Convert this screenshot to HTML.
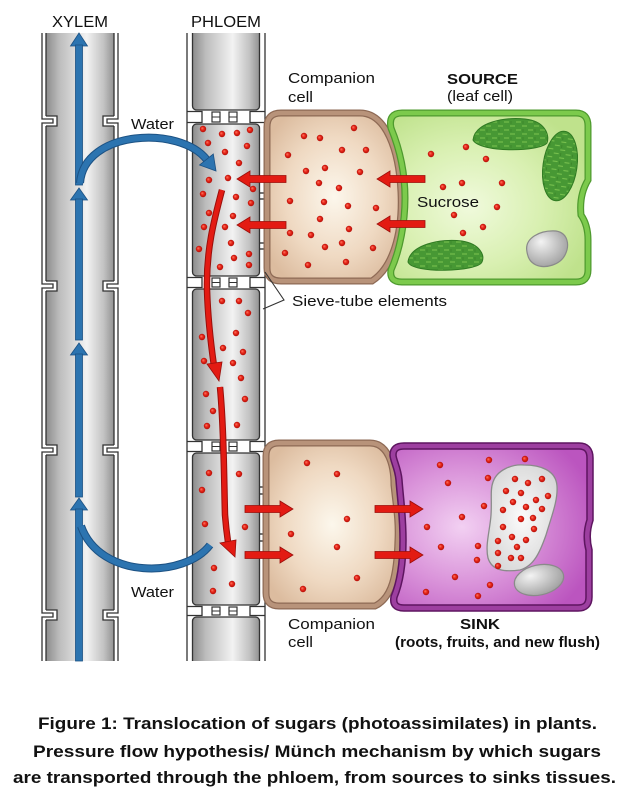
<!DOCTYPE html>
<html><head><meta charset="utf-8"><style>
html,body{margin:0;padding:0;background:#fff;}
svg{display:block;}
text{font-family:"Liberation Sans",Arial,sans-serif;fill:#111;}
</style></head><body>
<svg width="636" height="798" viewBox="0 0 636 798" xmlns="http://www.w3.org/2000/svg">
<defs>
<linearGradient id="tube" x1="0" y1="0" x2="1" y2="0">
<stop offset="0" stop-color="#8c8c8c"/><stop offset="0.2" stop-color="#bdbdbd"/><stop offset="0.6" stop-color="#f2f2f2"/><stop offset="0.85" stop-color="#c2c2c2"/><stop offset="1" stop-color="#929292"/>
</linearGradient>
<radialGradient id="cc" cx="0.5" cy="0.5" r="0.6">
<stop offset="0" stop-color="#fcf7ec"/><stop offset="0.6" stop-color="#efd9c2"/><stop offset="1" stop-color="#dcbc9f"/>
</radialGradient>
<radialGradient id="src" cx="0.4" cy="0.55" r="0.65">
<stop offset="0" stop-color="#f0fadc"/><stop offset="0.55" stop-color="#d9f0b2"/><stop offset="1" stop-color="#bfe28c"/>
</radialGradient>
<radialGradient id="sink" cx="0.35" cy="0.5" r="0.7">
<stop offset="0" stop-color="#f2d0f2"/><stop offset="0.5" stop-color="#da94da"/><stop offset="1" stop-color="#bb55bf"/>
</radialGradient>
<radialGradient id="vac" cx="0.5" cy="0.5" r="0.6">
<stop offset="0" stop-color="#fbfbfb"/><stop offset="1" stop-color="#d6d6d6"/>
</radialGradient>
<radialGradient id="nuc" cx="0.4" cy="0.4" r="0.7" fx="0.35" fy="0.3">
<stop offset="0" stop-color="#f4f4f4"/><stop offset="1" stop-color="#9a9a9a"/>
</radialGradient>
<radialGradient id="dot" cx="0.5" cy="0.5" r="0.5" fx="0.35" fy="0.35">
<stop offset="0" stop-color="#ff7a66"/><stop offset="0.5" stop-color="#e8281a"/><stop offset="1" stop-color="#b20e08"/>
</radialGradient>
<pattern id="gr" width="12" height="8" patternUnits="userSpaceOnUse">
<rect width="12" height="8" fill="#479834"/>
<line x1="0" y1="2" x2="5" y2="2" stroke="#78c14e" stroke-width="1.1"/>
<line x1="6" y1="6" x2="11" y2="6" stroke="#78c14e" stroke-width="1.1"/>
<line x1="7" y1="1" x2="7" y2="4" stroke="#3a8428" stroke-width="0.8"/>
</pattern>
</defs>

<!-- XYLEM tube -->
<rect x="46" y="20" width="68" height="650" fill="url(#tube)"/>
<g stroke="#333" stroke-width="1.3" fill="none">
<line x1="42" y1="20" x2="42" y2="670"/><line x1="46" y1="20" x2="46" y2="670"/>
<line x1="114" y1="20" x2="114" y2="670"/><line x1="118" y1="20" x2="118" y2="670"/>
</g>
<g stroke="#333" stroke-width="1.3">
<g fill="#fff" stroke="none">
<rect x="41" y="116" width="16" height="10"/><rect x="103" y="116" width="16" height="10"/>
<rect x="41" y="281" width="16" height="10"/><rect x="103" y="281" width="16" height="10"/>
<rect x="41" y="445" width="16" height="10"/><rect x="103" y="445" width="16" height="10"/>
<rect x="41" y="610" width="16" height="10"/><rect x="103" y="610" width="16" height="10"/>
</g>
<g fill="none">
<path d="M46,116 H57 V126 H46"/><path d="M114,116 H103 V126 H114"/>
<path d="M42,116 V119 H53 V123 H42 V126"/><path d="M118,116 V119 H107 V123 H118 V126"/>
<path d="M46,281 H57 V291 H46"/><path d="M114,281 H103 V291 H114"/>
<path d="M42,281 V284 H53 V288 H42 V291"/><path d="M118,281 V284 H107 V288 H118 V291"/>
<path d="M46,445 H57 V455 H46"/><path d="M114,445 H103 V455 H114"/>
<path d="M42,445 V448 H53 V452 H42 V455"/><path d="M118,445 V448 H107 V452 H118 V455"/>
<path d="M46,610 H57 V620 H46"/><path d="M114,610 H103 V620 H114"/>
<path d="M42,610 V613 H53 V617 H42 V620"/><path d="M118,610 V613 H107 V617 H118 V620"/>
</g>
</g>

<!-- PHLOEM tube -->
<g stroke="#333" stroke-width="1.3" fill="none">
<line x1="187" y1="20" x2="187" y2="670"/><line x1="265" y1="20" x2="265" y2="670"/>
</g>
<g fill="url(#tube)" stroke="#333" stroke-width="1.3">
<rect x="192.5" y="10" width="67" height="100" rx="4"/>
<rect x="192.5" y="124" width="67" height="152" rx="4"/>
<rect x="192.5" y="289" width="67" height="151" rx="4"/>
<rect x="192.5" y="453" width="67" height="152" rx="4"/>
<rect x="192.5" y="617" width="67" height="70" rx="4"/>
</g>
<g stroke="#333" stroke-width="1.3" fill="none">
<path d="M187,111.5 H202 V122.5 H187"/><path d="M265,111.5 H250 V122.5 H265"/>
<path d="M187,277.5 H202 V287.5 H187"/><path d="M265,277.5 H250 V287.5 H265"/>
<path d="M187,441.5 H202 V451.5 H187"/><path d="M265,441.5 H250 V451.5 H265"/>
<path d="M187,606.5 H202 V615.5 H187"/><path d="M265,606.5 H250 V615.5 H265"/>
</g>
<g stroke="#333" stroke-width="1.2" fill="#fff">
<rect x="212" y="112" width="8" height="10"/><rect x="229" y="112" width="8" height="10"/>
<rect x="212" y="278" width="8" height="9"/><rect x="229" y="278" width="8" height="9"/>
<rect x="212" y="442" width="8" height="9"/><rect x="229" y="442" width="8" height="9"/>
<rect x="212" y="607" width="8" height="8"/><rect x="229" y="607" width="8" height="8"/>
</g>
<g stroke="#333" stroke-width="1">
<line x1="212" y1="117" x2="220" y2="117"/><line x1="229" y1="117" x2="237" y2="117"/>
<line x1="212" y1="282.5" x2="220" y2="282.5"/><line x1="229" y1="282.5" x2="237" y2="282.5"/>
<line x1="212" y1="446.5" x2="220" y2="446.5"/><line x1="229" y1="446.5" x2="237" y2="446.5"/>
<line x1="212" y1="611" x2="220" y2="611"/><line x1="229" y1="611" x2="237" y2="611"/>
</g>

<!-- plasmodesmata lines -->
<g stroke="#222" stroke-width="1.2">
<line x1="260" y1="193" x2="283" y2="193"/><line x1="260" y1="199" x2="283" y2="199"/>
<line x1="260" y1="243" x2="283" y2="243"/><line x1="260" y1="249" x2="283" y2="249"/>
<line x1="260" y1="487" x2="283" y2="487"/><line x1="260" y1="494" x2="283" y2="494"/>
<line x1="260" y1="534" x2="283" y2="534"/><line x1="260" y1="541" x2="283" y2="541"/>
</g>

<!-- white covers top & bottom -->
<rect x="0" y="0" width="636" height="33" fill="#fff"/>
<rect x="0" y="661" width="636" height="137" fill="#fff"/>

<!-- Companion cell top -->
<path d="M281,113 H360 C386,113 399,150 401,192 C403,235 392,268 372,281 H281 Q267,281 267,268 V127 Q267,113 281,113 Z" fill="url(#cc)" stroke="#8e6a55" stroke-width="7"/>
<path d="M281,113 H360 C386,113 399,150 401,192 C403,235 392,268 372,281 H281 Q267,281 267,268 V127 Q267,113 281,113 Z" fill="none" stroke="#b8937a" stroke-width="4.5"/>

<!-- Source cell -->
<path d="M402,113 H576 Q588,113 588,126 V180 Q579,195 581,215 Q588,225 588,240 V270 Q588,282 576,282 H402 Q389,282 391,270 C400,250 405,222 405,198 C405,170 398,145 391,128 Q388,113 402,113 Z" fill="url(#src)" stroke="#4e9a2e" stroke-width="7"/>
<path d="M402,113 H576 Q588,113 588,126 V180 Q579,195 581,215 Q588,225 588,240 V270 Q588,282 576,282 H402 Q389,282 391,270 C400,250 405,222 405,198 C405,170 398,145 391,128 Q388,113 402,113 Z" fill="none" stroke="#7cca4c" stroke-width="4.5"/>
<!-- chloroplasts -->
<path d="M473,140 C475,122 505,117 525,119 C545,121 550,135 547,143 C540,152 480,153 473,140 Z" fill="url(#gr)" stroke="#2f7a22" stroke-width="1"/>
<ellipse cx="560" cy="166" rx="17" ry="35" transform="rotate(8 560 166)" fill="url(#gr)" stroke="#2f7a22" stroke-width="1"/>
<path d="M408,262 C410,245 440,238 462,241 C480,244 485,255 482,262 C478,272 412,274 408,262 Z" fill="url(#gr)" stroke="#2f7a22" stroke-width="1"/>
<path d="M527,252 C524,238 540,230 556,231 C568,233 570,245 565,255 C560,265 545,269 536,265 C530,262 528,258 527,252 Z" fill="url(#nuc)" stroke="#8a8a8a" stroke-width="1.2"/>

<!-- Companion cell bottom -->
<path d="M279,443 H370 C388,443 394,465 394,485 C396,505 399,520 398,540 C397,575 392,598 375,606 H279 Q266,606 266,593 V456 Q266,443 279,443 Z" fill="url(#cc)" stroke="#8e6a55" stroke-width="7"/>
<path d="M279,443 H370 C388,443 394,465 394,485 C396,505 399,520 398,540 C397,575 392,598 375,606 H279 Q266,606 266,593 V456 Q266,443 279,443 Z" fill="none" stroke="#b8937a" stroke-width="4.5"/>

<!-- Sink cell -->
<path d="M404,446 H579 Q590,446 590,458 V520 Q585,535 589,550 V597 Q589,608 578,608 H404 Q392,608 394,597 C401,580 403,560 403,540 C403,515 400,495 399,480 C398,468 393,460 393,455 Q393,446 404,446 Z" fill="url(#sink)" stroke="#5e1560" stroke-width="7.5"/>
<path d="M404,446 H579 Q590,446 590,458 V520 Q585,535 589,550 V597 Q589,608 578,608 H404 Q392,608 394,597 C401,580 403,560 403,540 C403,515 400,495 399,480 C398,468 393,460 393,455 Q393,446 404,446 Z" fill="none" stroke="#9d3fa0" stroke-width="4.5"/>
<path d="M493,482 C497,470 512,464 524,465 C540,465 556,470 557,486 C558,500 552,515 546,535 C540,552 534,566 520,570 C505,572 492,571 488,558 C485,545 490,530 491,515 C492,500 490,490 493,482 Z" fill="url(#vac)" stroke="#8a8a8a" stroke-width="1.3"/>
<ellipse cx="539" cy="580" rx="25" ry="15" transform="rotate(-12 539 580)" fill="url(#nuc)" stroke="#8a8a8a" stroke-width="1.2"/>

<!-- Xylem blue arrow -->
<g fill="#2c74b0" stroke="#1c5284" stroke-width="0.8">
<polygon points="79,33 70.5,46 87.5,46"/><rect x="75.5" y="45" width="7" height="140"/>
<polygon points="79,188 70.5,200 87.5,200"/><rect x="75.5" y="199" width="7" height="141"/>
<polygon points="79,343 70.5,355 87.5,355"/><rect x="75.5" y="354" width="7" height="143"/>
<polygon points="79,498 70.5,510 87.5,510"/><rect x="75.5" y="509" width="7" height="152"/>
</g>
<!-- water arcs -->
<path d="M80,183 C84,130 180,125 207,160" fill="none" stroke="#1c5284" stroke-width="8"/>
<path d="M80,183 C84,130 180,125 207,160" fill="none" stroke="#2c74b0" stroke-width="6"/>
<polygon points="216,171 213.3,154 199.5,165" fill="#2c74b0" stroke="#1c5284" stroke-width="0.8"/>
<path d="M210,545 C185,578 100,580 81,526" fill="none" stroke="#1c5284" stroke-width="8"/>
<path d="M210,545 C185,578 100,580 81,526" fill="none" stroke="#2c74b0" stroke-width="6"/>

<!-- red curved arrows in phloem -->
<path d="M222,190 C214,220 206,250 207,290 C208,322 211,345 214,366" fill="none" stroke="#9a0e0a" stroke-width="6.5"/>
<path d="M222,190 C214,220 206,250 207,290 C208,322 211,345 214,366" fill="none" stroke="#e31b13" stroke-width="4.5"/>
<polygon points="219,381 207,364 222,362" fill="#e31b13" stroke="#9a0e0a" stroke-width="0.8"/>
<path d="M220,387 C224,430 224,480 225,515 C226,528 227,535 228,542" fill="none" stroke="#9a0e0a" stroke-width="6.5"/>
<path d="M220,387 C224,430 224,480 225,515 C226,528 227,535 228,542" fill="none" stroke="#e31b13" stroke-width="4.5"/>
<polygon points="235,557 220,543 236,540" fill="#e31b13" stroke="#9a0e0a" stroke-width="0.8"/>

<!-- red horizontal arrows -->
<g fill="#e31b13" stroke="#9a0e0a" stroke-width="0.8">
<polygon points="286,175.5 250,175.5 250,171 237,179 250,187 250,182.5 286,182.5"/>
<polygon points="286,221.5 250,221.5 250,217 237,225 250,233 250,228.5 286,228.5"/>
<polygon points="425,175.5 390,175.5 390,171 377,179 390,187 390,182.5 425,182.5"/>
<polygon points="425,220.5 390,220.5 390,216 377,224 390,232 390,227.5 425,227.5"/>
<polygon points="245,505.5 280,505.5 280,501 293,509 280,517 280,512.5 245,512.5"/>
<polygon points="245,551.5 280,551.5 280,547 293,555 280,563 280,558.5 245,558.5"/>
<polygon points="375,505.5 410,505.5 410,501 423,509 410,517 410,512.5 375,512.5"/>
<polygon points="375,551.5 410,551.5 410,547 423,555 410,563 410,558.5 375,558.5"/>
</g>

<!-- dots -->
<g fill="url(#dot)">
<circle cx="203" cy="129" r="3.2"/><circle cx="222" cy="134" r="3.2"/><circle cx="237" cy="133" r="3.2"/><circle cx="250" cy="130" r="3.2"/>
<circle cx="208" cy="143" r="3.2"/><circle cx="247" cy="146" r="3.2"/><circle cx="225" cy="152" r="3.2"/><circle cx="239" cy="163" r="3.2"/>
<circle cx="209" cy="180" r="3.2"/><circle cx="228" cy="178" r="3.2"/><circle cx="253" cy="189" r="3.2"/><circle cx="203" cy="194" r="3.2"/>
<circle cx="236" cy="197" r="3.2"/><circle cx="251" cy="203" r="3.2"/><circle cx="209" cy="213" r="3.2"/><circle cx="233" cy="216" r="3.2"/>
<circle cx="204" cy="227" r="3.2"/><circle cx="225" cy="227" r="3.2"/><circle cx="231" cy="243" r="3.2"/><circle cx="199" cy="249" r="3.2"/>
<circle cx="249" cy="254" r="3.2"/><circle cx="234" cy="258" r="3.2"/><circle cx="220" cy="267" r="3.2"/><circle cx="249" cy="265" r="3.2"/>
<circle cx="222" cy="301" r="3.2"/><circle cx="239" cy="301" r="3.2"/><circle cx="248" cy="313" r="3.2"/><circle cx="202" cy="337" r="3.2"/>
<circle cx="236" cy="333" r="3.2"/><circle cx="223" cy="348" r="3.2"/><circle cx="243" cy="352" r="3.2"/><circle cx="204" cy="361" r="3.2"/>
<circle cx="233" cy="363" r="3.2"/><circle cx="241" cy="378" r="3.2"/><circle cx="206" cy="394" r="3.2"/><circle cx="245" cy="399" r="3.2"/>
<circle cx="213" cy="411" r="3.2"/><circle cx="207" cy="426" r="3.2"/><circle cx="237" cy="425" r="3.2"/>
<circle cx="209" cy="473" r="3.2"/><circle cx="239" cy="474" r="3.2"/><circle cx="202" cy="490" r="3.2"/><circle cx="205" cy="524" r="3.2"/>
<circle cx="245" cy="527" r="3.2"/><circle cx="214" cy="568" r="3.2"/><circle cx="232" cy="584" r="3.2"/><circle cx="213" cy="591" r="3.2"/>
<circle cx="354" cy="128" r="3.2"/><circle cx="304" cy="136" r="3.2"/><circle cx="320" cy="138" r="3.2"/><circle cx="288" cy="155" r="3.2"/>
<circle cx="342" cy="150" r="3.2"/><circle cx="366" cy="150" r="3.2"/><circle cx="306" cy="171" r="3.2"/><circle cx="325" cy="168" r="3.2"/>
<circle cx="360" cy="172" r="3.2"/><circle cx="319" cy="183" r="3.2"/><circle cx="339" cy="188" r="3.2"/><circle cx="290" cy="201" r="3.2"/>
<circle cx="324" cy="202" r="3.2"/><circle cx="348" cy="206" r="3.2"/><circle cx="376" cy="208" r="3.2"/><circle cx="320" cy="219" r="3.2"/>
<circle cx="290" cy="233" r="3.2"/><circle cx="311" cy="235" r="3.2"/><circle cx="349" cy="229" r="3.2"/><circle cx="342" cy="243" r="3.2"/>
<circle cx="325" cy="247" r="3.2"/><circle cx="373" cy="248" r="3.2"/><circle cx="285" cy="253" r="3.2"/><circle cx="308" cy="265" r="3.2"/>
<circle cx="346" cy="262" r="3.2"/>
<circle cx="431" cy="154" r="3.2"/><circle cx="466" cy="147" r="3.2"/><circle cx="486" cy="159" r="3.2"/><circle cx="443" cy="187" r="3.2"/>
<circle cx="462" cy="183" r="3.2"/><circle cx="502" cy="183" r="3.2"/><circle cx="497" cy="207" r="3.2"/><circle cx="454" cy="215" r="3.2"/>
<circle cx="483" cy="227" r="3.2"/><circle cx="463" cy="233" r="3.2"/>
<circle cx="307" cy="463" r="3.2"/><circle cx="337" cy="474" r="3.2"/><circle cx="347" cy="519" r="3.2"/><circle cx="291" cy="534" r="3.2"/>
<circle cx="337" cy="547" r="3.2"/><circle cx="357" cy="578" r="3.2"/><circle cx="303" cy="589" r="3.2"/>
<circle cx="440" cy="465" r="3.2"/><circle cx="489" cy="460" r="3.2"/><circle cx="525" cy="459" r="3.2"/><circle cx="448" cy="483" r="3.2"/>
<circle cx="488" cy="478" r="3.2"/><circle cx="484" cy="506" r="3.2"/><circle cx="462" cy="517" r="3.2"/><circle cx="427" cy="527" r="3.2"/>
<circle cx="441" cy="547" r="3.2"/><circle cx="478" cy="546" r="3.2"/><circle cx="477" cy="560" r="3.2"/><circle cx="455" cy="577" r="3.2"/>
<circle cx="490" cy="585" r="3.2"/><circle cx="426" cy="592" r="3.2"/><circle cx="478" cy="596" r="3.2"/>
<circle cx="515" cy="479" r="3.2"/><circle cx="528" cy="483" r="3.2"/><circle cx="542" cy="479" r="3.2"/><circle cx="506" cy="491" r="3.2"/>
<circle cx="521" cy="493" r="3.2"/><circle cx="536" cy="500" r="3.2"/><circle cx="548" cy="496" r="3.2"/><circle cx="513" cy="502" r="3.2"/>
<circle cx="503" cy="510" r="3.2"/><circle cx="526" cy="507" r="3.2"/><circle cx="542" cy="509" r="3.2"/><circle cx="521" cy="519" r="3.2"/>
<circle cx="533" cy="518" r="3.2"/><circle cx="503" cy="527" r="3.2"/><circle cx="534" cy="529" r="3.2"/><circle cx="512" cy="537" r="3.2"/>
<circle cx="498" cy="541" r="3.2"/><circle cx="526" cy="540" r="3.2"/><circle cx="517" cy="547" r="3.2"/><circle cx="498" cy="553" r="3.2"/>
<circle cx="511" cy="558" r="3.2"/><circle cx="521" cy="558" r="3.2"/><circle cx="498" cy="566" r="3.2"/>
</g>

<!-- sieve-tube bracket -->
<polyline points="265,272 284,300 263,309" fill="none" stroke="#333" stroke-width="1.1"/>

<!-- labels -->
<text x="52" y="27" font-size="16" textLength="56" lengthAdjust="spacingAndGlyphs">XYLEM</text>
<text x="191" y="27" font-size="16" textLength="70" lengthAdjust="spacingAndGlyphs">PHLOEM</text>
<text x="131" y="129" font-size="15" textLength="43" lengthAdjust="spacingAndGlyphs">Water</text>
<text x="131" y="597" font-size="15" textLength="43" lengthAdjust="spacingAndGlyphs">Water</text>
<text x="288" y="83" font-size="15" textLength="87" lengthAdjust="spacingAndGlyphs">Companion</text>
<text x="288" y="102" font-size="15" textLength="25" lengthAdjust="spacingAndGlyphs">cell</text>
<text x="447" y="84" font-size="15" font-weight="bold" textLength="71" lengthAdjust="spacingAndGlyphs">SOURCE</text>
<text x="447" y="101" font-size="15" textLength="66" lengthAdjust="spacingAndGlyphs">(leaf cell)</text>
<text x="417" y="207" font-size="15" textLength="62" lengthAdjust="spacingAndGlyphs">Sucrose</text>
<text x="292" y="306" font-size="15" textLength="155" lengthAdjust="spacingAndGlyphs">Sieve-tube elements</text>
<text x="288" y="629" font-size="15" textLength="87" lengthAdjust="spacingAndGlyphs">Companion</text>
<text x="288" y="647" font-size="15" textLength="25" lengthAdjust="spacingAndGlyphs">cell</text>
<text x="460" y="629" font-size="15" font-weight="bold" textLength="40" lengthAdjust="spacingAndGlyphs">SINK</text>
<text x="395" y="647" font-size="15" font-weight="bold" textLength="205" lengthAdjust="spacingAndGlyphs">(roots, fruits, and new flush)</text>

<!-- caption -->
<text x="38" y="729" font-size="17" font-weight="bold" textLength="559" lengthAdjust="spacingAndGlyphs">Figure 1: Translocation of sugars (photoassimilates) in plants.</text>
<text x="33" y="757" font-size="17" font-weight="bold" textLength="568" lengthAdjust="spacingAndGlyphs">Pressure flow hypothesis/ Münch mechanism by which sugars</text>
<text x="13" y="783" font-size="17" font-weight="bold" textLength="603" lengthAdjust="spacingAndGlyphs">are transported through the phloem, from sources to sinks tissues.</text>
</svg>
</body></html>
